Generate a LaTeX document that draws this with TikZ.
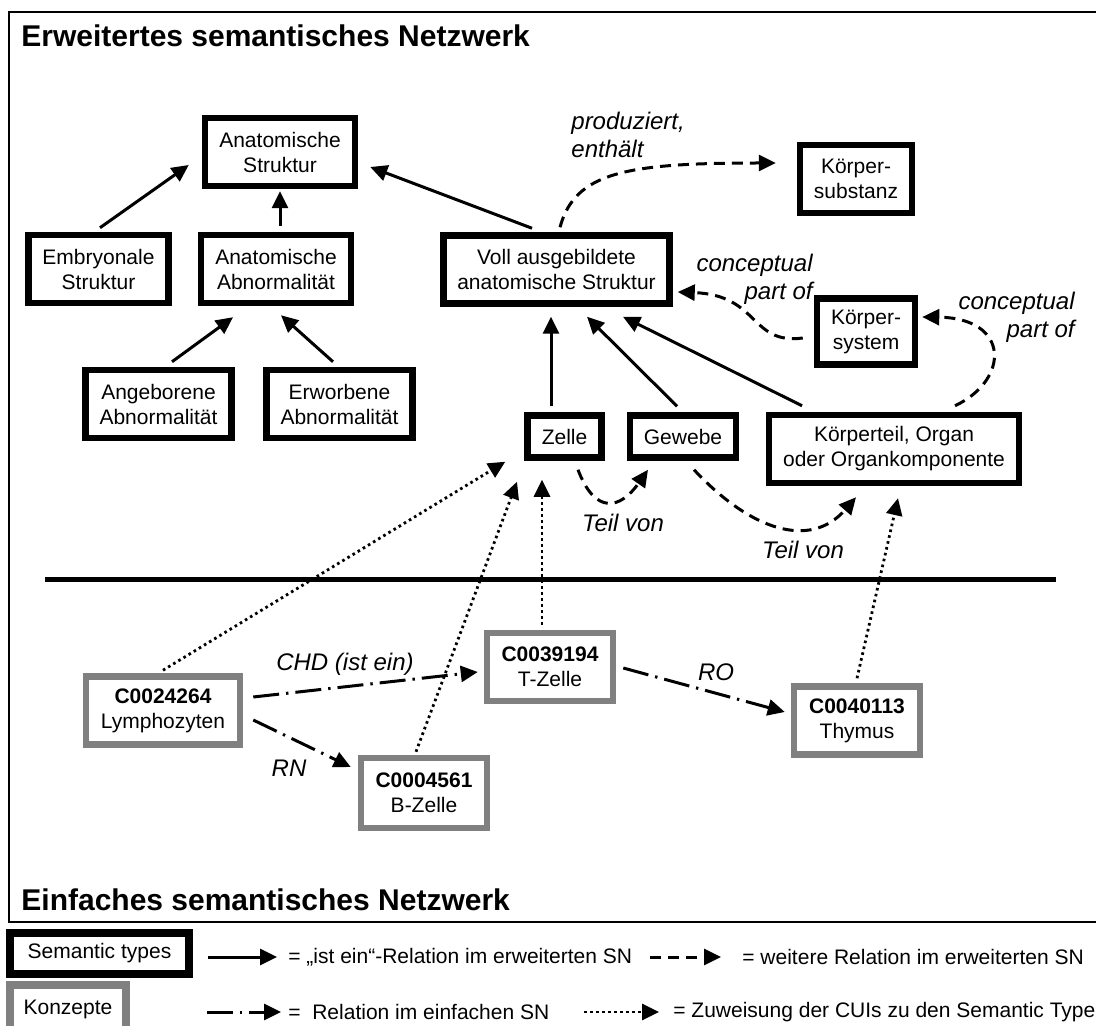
\documentclass[tikz,border=0pt]{standalone}
\usepackage{fontspec}
\setmainfont{Liberation Sans}
\usetikzlibrary{arrows.meta}
\definecolor{conceptgrey}{RGB}{128,128,128}
\tikzset{
  stype/.style={draw=black,line width=3.25pt,align=center,inner sep=0pt,
    font=\fontsize{10.5}{12.5}\selectfont},
  concept/.style={stype,draw=conceptgrey},
  isa/.style={line width=1.5pt,-{Triangle[length=8.5pt,width=8pt]}},
  rel/.style={isa,dash pattern=on 5.5pt off 3.5pt},
  umls/.style={isa,dash pattern=on 13pt off 3.5pt on 1.2pt off 3.5pt},
  cui/.style={line width=1.4pt,dash pattern=on 1.3pt off 1.7pt,
    -{Triangle[length=8.5pt,width=8pt]}},
  lbl/.style={inner sep=0pt,font=\fontsize{12}{14}\selectfont\itshape},
  legtext/.style={inner sep=0pt,anchor=west,font=\fontsize{10.5}{12.5}\selectfont}
}

\begin{document}
\begin{tikzpicture}[x=0.5pt,y=-0.5pt]
  \useasboundingbox (0,0) rectangle (1096,1026);
  \draw[line width=1pt] (8.5,12) rectangle (1100,922);
  \node[inner sep=0pt,anchor=base west,font=\fontsize{15}{18}\selectfont\bfseries]
    (titleext) at (21,47) {Erweitertes semantisches Netzwerk};
  \node[inner sep=0pt,anchor=base west,font=\fontsize{15}{18}\selectfont\bfseries]
    (titlesimple) at (21,910) {Einfaches semantisches Netzwerk};
  \draw[line width=2.5pt] (45,579) -- (1056,579);

  % semantic types
  \node[stype,minimum width=75pt,minimum height=34pt] (anat) at (280,152) {Anatomische\\Struktur};
  \node[stype,minimum width=70pt,minimum height=34pt] (embryo) at (98.5,269) {Embryonale\\Struktur};
  \node[stype,minimum width=75pt,minimum height=34pt] (abnorm) at (276,269) {Anatomische\\Abnormalität};
  \node[stype,minimum width=113pt,minimum height=34pt] (voll) at (556.5,269.5) {Voll ausgebildete\\anatomische Struktur};
  \node[stype,minimum width=56pt,minimum height=34pt] (substanz) at (856,179) {Körper-\\substanz};
  \node[stype,minimum width=49pt,minimum height=33pt] (system) at (866,331.5) {Körper-\\system};
  \node[stype,minimum width=73pt,minimum height=34pt] (angeb) at (158.5,404) {Angeborene\\Abnormalität};
  \node[stype,minimum width=73pt,minimum height=34pt] (erworb) at (339.5,404) {Erworbene\\Abnormalität};
  \node[stype,minimum width=37pt,minimum height=21pt] (zelle) at (564.5,436.5) {Zelle};
  \node[stype,minimum width=53pt,minimum height=21pt] (gewebe) at (683,436.5) {Gewebe};
  \node[stype,minimum width=125pt,minimum height=34pt] (teil) at (894,449) {Körperteil, Organ\\oder Organkomponente};

  % concepts
  \node[concept,minimum width=77pt,minimum height=34pt] (lympho) at (163,710.5) {\textbf{C0024264}\\Lymphozyten};
  \node[concept,minimum width=63pt,minimum height=34pt] (tzelle) at (550,667) {\textbf{C0039194}\\T-Zelle};
  \node[concept,minimum width=63pt,minimum height=35pt] (bzelle) at (424,793) {\textbf{C0004561}\\B-Zelle};
  \node[concept,minimum width=63pt,minimum height=34pt] (thymus) at (857,720.5) {\textbf{C0040113}\\Thymus};

  % ist ein
  \draw[isa] ([shift={(1.5,-4)}]embryo.north) -- ([shift={(-13,13)}]anat.west);
  \draw[isa] ([shift={(4,-6)}]abnorm.north) -- ([shift={(0,2)}]anat.south);
  \draw[isa] ([shift={(-24.5,-4)}]voll.north) -- ([shift={(12,15)}]anat.east);
  \draw[isa] ([shift={(13.5,-5)}]angeb.north) -- ([shift={(-43,11)}]abnorm.south);
  \draw[isa] ([shift={(-6.5,-5)}]erworb.north) -- ([shift={(5,9)}]abnorm.south);
  \draw[isa] ([shift={(-13.5,-6)}]zelle.north) -- ([shift={(-5.5,10)}]voll.south);
  \draw[isa] ([shift={(-6,-6)}]gewebe.north) -- ([shift={(30.5,10)}]voll.south);
  \draw[isa] ([shift={(-92,-6)}]teil.north) -- ([shift={(66.5,10)}]voll.south);

  % weitere Relationen
  \draw[rel] ([shift={(3.5,-5)}]voll.north) .. controls +(15,-55) and +(-150,0) .. ([shift={(-21,-16)}]substanz.west);
  \node[lbl,anchor=west,align=left] (prodlbl) at (571,135) {produziert,\\enthält};
  \draw[rel] ([shift={(-11,6.5)}]system.west) .. controls +(-53,7) and +(82,3) .. ([shift={(5,22.5)}]voll.east);
  \node[lbl,anchor=east,align=right] (cpartA) at (813,279) {conceptual\\part of};
  \draw[rel] ([shift={(61,-6)}]teil.north) .. controls +(55,-26) and +(88,1) .. ([shift={(4,-14.5)}]system.east);
  \node[lbl,anchor=east,align=right] (cpartB) at (1075,317) {conceptual\\part of};
  \draw[rel] ([shift={(13.5,9)}]zelle.south) .. controls +(17,45) and +(-28,40) .. ([shift={(-35,9)}]gewebe.south);
  \node[lbl] (teilA) at (623,523) {Teil von};
  \draw[rel] ([shift={(11,9)}]gewebe.south) .. controls +(56,60) and +(-46,53) .. ([shift={(-38,11)}]teil.south);
  \node[lbl] (teilB) at (803,550) {Teil von};

  % Zuweisung
  \draw[cui] ([shift={(0,-3)}]lympho.north) -- ([shift={(-19,1)}]zelle.south west);
  \draw[cui] ([shift={(-8,-3)}]bzelle.north) -- ([shift={(-47.5,21)}]zelle.south);
  \draw[cui] ([shift={(-8,-5)}]tzelle.north) -- ([shift={(-22.5,19)}]zelle.south);
  \draw[cui] ([shift={(0,-5)}]thymus.north) -- ([shift={(4,12)}]teil.south);

  % einfaches SN
  \draw[umls] ([shift={(10,-13.5)}]lympho.east) -- ([shift={(-6,5)}]tzelle.west);
  \node[lbl] (chdlbl) at (345,664) {CHD (ist ein)};
  \draw[umls] ([shift={(10,9.5)}]lympho.east) -- ([shift={(-7,-26)}]bzelle.west);
  \node[lbl] (rnlbl) at (289,768) {RN};
  \draw[umls] ([shift={(7,1)}]tzelle.east) -- ([shift={(-6,-8.5)}]thymus.west);
  \node[lbl] (rolbl) at (716,672) {RO};

  % legend
  \node[stype,line width=4pt,minimum width=89.5pt,minimum height=20.5pt] (legtype) at (99.5,953.5) {Semantic types};
  \node[concept,line width=4pt,minimum width=58pt,text height=14.5pt,text depth=20pt,anchor=base] (legconcept) at (68,1014) {Konzepte};
  \coordinate (isaA) at (208,957);
  \coordinate (isaB) at (277,957);
  \draw[isa] (isaA) -- (isaB);
  \node[legtext] (isatxt) at (288,957) {= „ist ein“-Relation im erweiterten SN};
  \coordinate (relA) at (650,957);
  \coordinate (relB) at (721,957);
  \draw[rel] (relA) -- (relB);
  \node[legtext] (reltxt) at (742,957) {= weitere Relation im erweiterten SN};
  \coordinate (umlsA) at (207,1012);
  \coordinate (umlsB) at (281,1012);
  \draw[umls] (umlsA) -- (umlsB);
  \node[legtext] (umlstxt) at (288,1012) {=~~Relation im einfachen SN};
  \coordinate (cuiA) at (584,1012);
  \coordinate (cuiB) at (659,1012);
  \draw[cui] (cuiA) -- (cuiB);
  \node[legtext] (cuitxt) at (673,1012) {= Zuweisung der CUIs zu den Semantic Type};
\end{tikzpicture}
\end{document}
